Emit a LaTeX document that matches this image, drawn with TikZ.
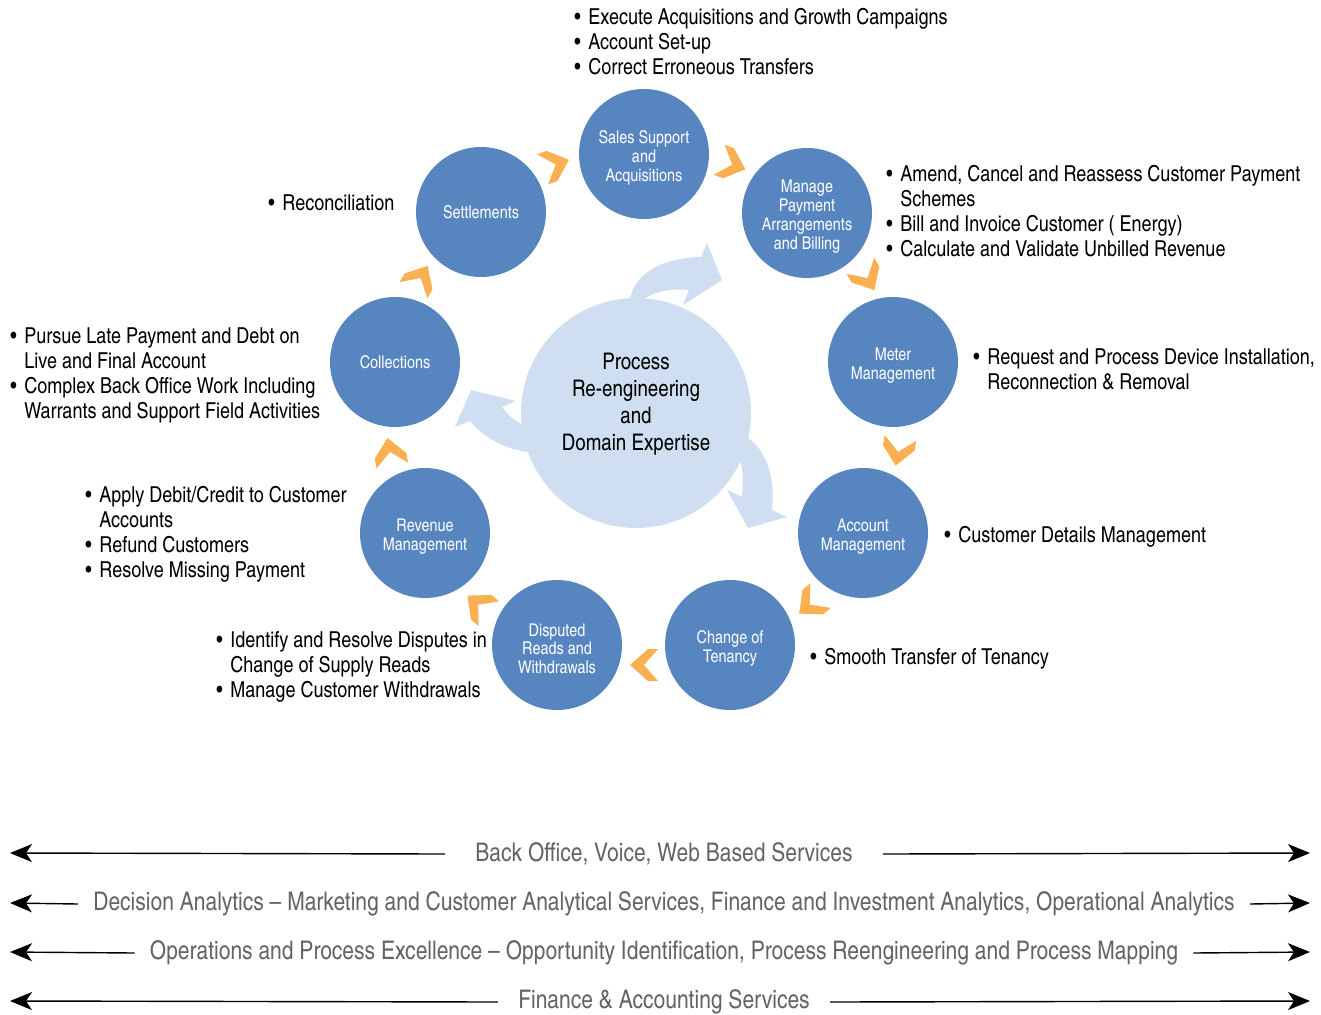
\documentclass[tikz,border=0pt]{standalone}
\usepackage{fontspec}
\setmainfont{texgyreheroscn}[Extension=.otf,UprightFont=*-regular,BoldFont=*-bold]
\usepackage{tikz}
\usetikzlibrary {arrows.meta,calc}

\definecolor{procblue}{RGB}{86,133,192}
\definecolor{hubblue}{RGB}{208,222,241}
\definecolor{chevorange}{RGB}{250,176,80}
\definecolor{bandgray}{RGB}{100,100,100}

\tikzset{
  proc/.style={circle,fill=procblue,text=white,minimum size=2.6cm,inner sep=0pt,
    align=center,font=\fontsize{10}{10.8}\selectfont},
  hub/.style={circle,fill=hubblue,minimum size=4.6cm,inner sep=0pt},
  notes/.style={anchor=base west,inner sep=0pt,font=\fontsize{12.5}{14.4}\selectfont},
  band/.style={text=bandgray,inner ysep=0pt,font=\fontsize{14.6}{16}\selectfont},
  bandarrow/.style={-{Stealth[length=0.44cm,width=0.36cm,inset=0.12cm]},line width=0.8pt},
  chevron/.style={fill=chevorange},
  sweep/.style={fill=hubblue}
}
% bullet list set as a two column table, baseline on the first row
\newcommand{\notelist}[1]{\begin{tabular}[t]{@{}p{0.28cm}@{}l@{}}#1\end{tabular}}
\newcommand{\itm}{\textbullet &}
% taller first line, so stacked labels sit a little lower
\newcommand{\topstrut}{\rule{0pt}{11.5pt}}

\begin{document}
\begin{tikzpicture}[x=0.02cm,y=-0.02cm]
\useasboundingbox (0,0) rectangle (1321,1014);

% sweeping arrows out of the hub
\fill[sweep] (630,298) .. controls (636,274) and (660,258) .. (701,257) -- (707,243)
  -- (722,280) -- (683,305) -- (689,290) .. controls (670,288) and (652,292) .. (643,300) -- cycle;
\fill[sweep] (748,438) .. controls (763,448) and (776,472) .. (772,510) -- (787,517)
  -- (748,528) -- (727,490) -- (742,497) .. controls (743,484) and (744,470) .. (738,452) -- cycle;
\fill[sweep] (528,452) .. controls (510,450) and (485,440) .. (470,421) -- (455,427)
  -- (471,390) -- (516,401) -- (502,407) .. controls (508,415) and (514,421) .. (524,425) -- cycle;

\node[hub] (hub) at (636,413) {};
\node[align=center,font=\fontsize{13}{15.3}\selectfont] (hubtext) at (636,404)
  {Process\\Re-engineering\\and\\Domain Expertise};

% the nine process steps
\node[proc] (sales) at (644,154) {\topstrut Sales Support\\and\\Acquisitions};
\node[proc] (pay) at (807,213) {\topstrut Manage\\Payment\\Arrangements\\and Billing};
\node[proc] (meter) at (893,362) {\topstrut Meter\\Management};
\node[proc] (acct) at (863,533) {\topstrut Account\\Management};
\node[proc] (tenancy) at (730,645) {\topstrut Change of\\Tenancy};
\node[proc] (disp) at (557,645) {\topstrut Disputed\\Reads and\\Withdrawals};
\node[proc] (rev) at (425,533) {\topstrut Revenue\\Management};
\node[proc] (coll) at (395,362) {Collections};
\node[proc] (settle) at (481,212) {Settlements};

% chevrons between the steps
\foreach \a in {70,30,-10,-50,-90,-130,-170,150,110}
  \fill[chevron,shift={({644+258*cos(\a)},{407-258*sin(\a)})},rotate=\a-90]
    (-14,16) -- (-4,16) -- (14,0) -- (-4,-16) -- (-14,-16) -- (0,0) -- cycle;

% notes beside each step
\node[notes] (salesnotes) at (574,24) {\notelist{
  \itm Execute Acquisitions and Growth Campaigns\\
  \itm Account Set-up\\
  \itm Correct Erroneous Transfers}};
\node[notes] (paynotes) at (886,181) {\notelist{
  \itm Amend, Cancel and Reassess Customer Payment\\
  & Schemes\\
  \itm Bill and Invoice Customer ( Energy)\\
  \itm Calculate and Validate Unbilled Revenue}};
\node[notes] (meternotes) at (973,364) {\notelist{
  \itm Request and Process Device Installation,\\
  & Reconnection \& Removal}};
\node[notes] (acctnotes) at (944,542) {\notelist{
  \itm Customer Details Management}};
\node[notes] (tenancynotes) at (810,664) {\notelist{
  \itm Smooth Transfer of Tenancy}};
\node[notes] (dispnotes) at (216,647) {\notelist{
  \itm Identify and Resolve Disputes in\\
  & Change of Supply Reads\\
  \itm Manage Customer Withdrawals}};
\node[notes] (revnotes) at (85,502) {\notelist{
  \itm Apply Debit/Credit to Customer\\
  & Accounts\\
  \itm Refund Customers\\
  \itm Resolve Missing Payment}};
\node[notes] (collnotes) at (10,343) {\notelist{
  \itm Pursue Late Payment and Debt on\\
  & Live and Final Account\\
  \itm Complex Back Office Work Including\\
  & Warrants and Support Field Activities}};
\node[notes] (settlenotes) at (268,210) {\notelist{
  \itm Reconciliation}};

% service bands along the bottom
\node[band,inner xsep=0.6cm] (band1) at (664,854) {Back Office, Voice, Web Based Services};
\node[band,inner xsep=0.3cm] (band2) at (664,904) {Decision Analytics -- Marketing and Customer Analytical Services, Finance and Investment Analytics, Operational Analytics};
\node[band,inner xsep=0.3cm] (band3) at (664,953) {Operations and Process Excellence -- Opportunity Identification, Process Reengineering and Process Mapping};
\node[band,inner xsep=0.4cm] (band4) at (664,1002) {Finance \& Accounting Services};

\foreach \i/\y in {1/853,2/903,3/952,4/1001} {
  \coordinate (l\i) at (10,\y);
  \coordinate (r\i) at (1310,\y);
  \draw[bandarrow] (band\i.west) -- (l\i);
  \draw[bandarrow] (band\i.east) -- (r\i);
}
\end{tikzpicture}
\end{document}
